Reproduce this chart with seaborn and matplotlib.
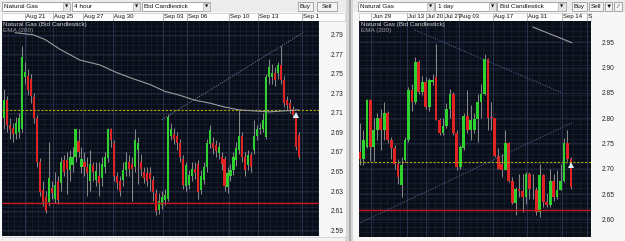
import matplotlib
matplotlib.use("Agg")
import matplotlib.pyplot as plt
import matplotlib.transforms as mtransforms
from matplotlib.patches import Rectangle
from matplotlib.lines import Line2D
import seaborn as sns
import numpy as np
import pandas as pd

sns.set_style("dark")
plt.rcParams['font.family'] = ['Liberation Sans', 'DejaVu Sans']

# ---------------- data: left panel (4 hour) ----------------
left_open = [2.705, 2.723, 2.698, 2.695, 2.688, 2.690, 2.693, 2.747, 2.748, 2.745,
             2.726, 2.705, 2.660, 2.631, 2.624, 2.619, 2.633, 2.622, 2.640, 2.638,
             2.662, 2.662, 2.652, 2.657, 2.665, 2.681, 2.655, 2.660, 2.655, 2.640,
             2.657, 2.641, 2.645, 2.643, 2.655, 2.664, 2.693, 2.679, 2.645, 2.640,
             2.641, 2.652, 2.660, 2.658, 2.655, 2.672, 2.660, 2.650, 2.648, 2.648,
             2.641, 2.628, 2.611, 2.616, 2.621, 2.622, 2.686, 2.688, 2.686, 2.679,
             2.663, 2.635, 2.636, 2.645, 2.653, 2.658, 2.631, 2.641, 2.655, 2.678,
             2.679, 2.677, 2.669, 2.665, 2.663, 2.634, 2.645, 2.652, 2.662, 2.672,
             2.686, 2.665, 2.657, 2.667, 2.672, 2.686, 2.693, 2.693, 2.685, 2.747,
             2.747, 2.751, 2.751, 2.759, 2.744, 2.723, 2.720, 2.714, 2.705, 2.687]
left_high = [2.734, 2.727, 2.705, 2.700, 2.706, 2.710, 2.778, 2.762, 2.755, 2.750,
             2.730, 2.708, 2.664, 2.640, 2.630, 2.680, 2.640, 2.650, 2.645, 2.665,
             2.667, 2.670, 2.672, 2.675, 2.693, 2.693, 2.675, 2.670, 2.665, 2.672,
             2.660, 2.660, 2.660, 2.665, 2.670, 2.695, 2.695, 2.682, 2.650, 2.645,
             2.660, 2.670, 2.667, 2.665, 2.693, 2.685, 2.668, 2.655, 2.655, 2.655,
             2.645, 2.632, 2.628, 2.630, 2.632, 2.709, 2.700, 2.695, 2.690, 2.683,
             2.667, 2.660, 2.652, 2.660, 2.660, 2.662, 2.652, 2.660, 2.683, 2.698,
             2.685, 2.682, 2.680, 2.670, 2.666, 2.655, 2.658, 2.670, 2.680, 2.713,
             2.690, 2.670, 2.672, 2.670, 2.703, 2.698, 2.700, 2.710, 2.750, 2.765,
             2.760, 2.757, 2.762, 2.778, 2.748, 2.727, 2.724, 2.717, 2.708, 2.690]
left_low = [2.693, 2.690, 2.683, 2.680, 2.683, 2.684, 2.690, 2.740, 2.728, 2.720,
            2.700, 2.655, 2.625, 2.615, 2.608, 2.615, 2.622, 2.618, 2.617, 2.630,
            2.645, 2.627, 2.640, 2.650, 2.660, 2.665, 2.648, 2.645, 2.625, 2.630,
            2.640, 2.635, 2.625, 2.635, 2.648, 2.660, 2.675, 2.640, 2.632, 2.625,
            2.635, 2.645, 2.645, 2.620, 2.650, 2.637, 2.645, 2.638, 2.635, 2.630,
            2.620, 2.606, 2.607, 2.612, 2.616, 2.620, 2.682, 2.678, 2.672, 2.660,
            2.632, 2.630, 2.632, 2.640, 2.642, 2.622, 2.627, 2.637, 2.650, 2.674,
            2.668, 2.665, 2.663, 2.652, 2.630, 2.628, 2.640, 2.646, 2.656, 2.668,
            2.660, 2.645, 2.652, 2.650, 2.668, 2.682, 2.688, 2.690, 2.683, 2.740,
            2.740, 2.738, 2.745, 2.740, 2.716, 2.713, 2.710, 2.705, 2.672, 2.663]
left_close = [2.723, 2.698, 2.693, 2.688, 2.700, 2.705, 2.767, 2.752, 2.733, 2.727,
              2.705, 2.660, 2.629, 2.619, 2.610, 2.643, 2.628, 2.636, 2.621, 2.660,
              2.649, 2.653, 2.665, 2.665, 2.693, 2.670, 2.663, 2.655, 2.648, 2.658,
              2.650, 2.651, 2.638, 2.658, 2.665, 2.693, 2.682, 2.645, 2.638, 2.630,
              2.652, 2.660, 2.653, 2.653, 2.682, 2.679, 2.653, 2.643, 2.640, 2.642,
              2.629, 2.610, 2.620, 2.624, 2.626, 2.706, 2.693, 2.683, 2.679, 2.665,
              2.636, 2.657, 2.646, 2.653, 2.648, 2.629, 2.645, 2.655, 2.679, 2.692,
              2.674, 2.671, 2.675, 2.658, 2.635, 2.648, 2.652, 2.665, 2.674, 2.686,
              2.665, 2.652, 2.667, 2.655, 2.686, 2.693, 2.695, 2.703, 2.747, 2.757,
              2.751, 2.744, 2.759, 2.744, 2.720, 2.718, 2.714, 2.708, 2.675, 2.665]
left_ema_idx = [3.7, 9.7, 13.8, 18.8, 25.5, 32.2, 37.2, 42.3, 49, 54, 59, 64, 69, 74, 79, 84, 89, 94, 99]
left_ema_val = [2.792, 2.790, 2.785, 2.775, 2.764, 2.759, 2.752, 2.746, 2.739, 2.732,
                2.728, 2.723, 2.720, 2.716, 2.713, 2.712, 2.711, 2.712, 2.713]
left_trend_idx = [53.0, 100.3]
left_trend_val = [2.703, 2.792]
left_dates = ["Aug 21", "Aug 25", "Aug 27", "Aug 30", "Sep 03", "Sep 06", "Sep 10", "Sep 13", "Sep 1"]
left_date_idx = [7.05, 16.4, 26.5, 36.6, 53.4, 61.4, 75.5, 85.2, 100.0]
left_yticks = [2.59, 2.61, 2.63, 2.65, 2.67, 2.69, 2.71, 2.73, 2.75, 2.77, 2.79]
left_marker = (98.0, 2.708)

# ---------------- data: right panel (1 day) ----------------
right_open = [2.733, 2.720, 2.743, 2.835, 2.743, 2.776, 2.800, 2.776, 2.810, 2.756,
              2.740, 2.710, 2.667, 2.717, 2.756, 2.855, 2.832, 2.911, 2.851, 2.871,
              2.822, 2.872, 2.882, 2.797, 2.770, 2.784, 2.819, 2.848, 2.770, 2.704,
              2.740, 2.805, 2.777, 2.777, 2.799, 2.832, 2.848, 2.916, 2.801, 2.801,
              2.726, 2.710, 2.698, 2.750, 2.676, 2.632, 2.660, 2.656, 2.644, 2.690,
              2.659, 2.658, 2.614, 2.687, 2.634, 2.628, 2.676, 2.644, 2.658, 2.676,
              2.750, 2.720]
right_high = [2.790, 2.776, 2.838, 2.838, 2.800, 2.810, 2.818, 2.832, 2.815, 2.763,
              2.746, 2.720, 2.723, 2.763, 2.861, 2.868, 2.921, 2.914, 2.884, 2.881,
              2.880, 2.888, 2.947, 2.800, 2.800, 2.829, 2.858, 2.851, 2.776, 2.746,
              2.810, 2.855, 2.825, 2.810, 2.848, 2.868, 2.927, 2.918, 2.832, 2.800,
              2.740, 2.730, 2.776, 2.753, 2.684, 2.664, 2.690, 2.690, 2.694, 2.694,
              2.690, 2.664, 2.710, 2.690, 2.651, 2.700, 2.690, 2.697, 2.710, 2.760,
              2.776, 2.723]
right_low = [2.707, 2.707, 2.740, 2.716, 2.713, 2.756, 2.736, 2.756, 2.750, 2.720,
             2.700, 2.670, 2.644, 2.713, 2.753, 2.815, 2.828, 2.848, 2.845, 2.818,
             2.815, 2.865, 2.796, 2.766, 2.766, 2.780, 2.800, 2.766, 2.697, 2.700,
             2.736, 2.770, 2.756, 2.770, 2.753, 2.800, 2.845, 2.777, 2.777, 2.723,
             2.700, 2.684, 2.697, 2.674, 2.631, 2.608, 2.644, 2.614, 2.631, 2.641,
             2.640, 2.608, 2.604, 2.624, 2.624, 2.624, 2.637, 2.641, 2.657, 2.674,
             2.716, 2.660]
right_close = [2.720, 2.756, 2.835, 2.743, 2.776, 2.800, 2.776, 2.810, 2.756, 2.740,
               2.710, 2.684, 2.707, 2.756, 2.855, 2.832, 2.911, 2.851, 2.871, 2.822,
               2.875, 2.875, 2.797, 2.770, 2.784, 2.819, 2.848, 2.770, 2.704, 2.743,
               2.805, 2.777, 2.797, 2.798, 2.832, 2.848, 2.916, 2.801, 2.800, 2.726,
               2.700, 2.698, 2.750, 2.676, 2.632, 2.660, 2.656, 2.644, 2.690, 2.659,
               2.660, 2.614, 2.687, 2.634, 2.628, 2.676, 2.644, 2.658, 2.676, 2.750,
               2.720, 2.664]
right_ema_idx = [50.0, 61.3]
right_ema_val = [2.980, 2.949]
right_trend1_idx = [15.9, 58.4]
right_trend1_val = [2.974, 2.850]
right_trend2_idx = [0.0, 61.6]
right_trend2_val = [2.593, 2.792]
right_dates = ["Jun 29", "Jul 13", "Jul 20", "Jul 27", "Aug 03", "Aug 17", "Aug 31", "Sep 14", "S"]
right_date_idx = [3.3, 13.6, 19.1, 24.3, 28.6, 38.4, 48.3, 58.4, 65.6]
right_yticks = [2.60, 2.65, 2.70, 2.75, 2.80, 2.85, 2.90, 2.95]
right_marker = (61.0, 2.707)

support_level = 2.618
resistance_level = 2.713

# ---------------- styling ----------------
W, H = 625, 241
BG = '#0a0e19'
GRID = '#182134'
MAJ = '#2b3852'
GREEN = '#2fd12f'
RED = '#e02323'
WICK = '#8a8a8a'

fig = plt.figure(figsize=(W / 100, H / 100), dpi=100, facecolor='#f7f7f7')


def fx(x):
    return x / W


def fy(y):
    return 1 - y / H


def rect(x0, y0, x1, y1, fc, ec='none', lw=0.6, z=0):
    fig.patches.append(Rectangle((fx(x0), fy(y1)), (x1 - x0) / W, (y1 - y0) / H,
                                 transform=fig.transFigure, facecolor=fc,
                                 edgecolor=ec, linewidth=lw, zorder=z))


def txt(x, y, s, size=4.6, color='#111111', ha='left', z=10, **kw):
    fig.text(fx(x), fy(y), s, fontsize=size, color=color, ha=ha, va='center', zorder=z, **kw)


def dropdown(x0, x1, xa, label):
    rect(x0, 2, x1, 11, 'white', '#9a9a9a', 0.6, z=2)
    rect(xa, 2.5, x1 - 0.5, 10.5, '#e6e6e6', '#b0b0b0', 0.5, z=3)
    txt(x0 + 2.5, 6.8, label)
    txt((xa + x1) / 2, 6.8, '▼', size=3.0, ha='center', family='DejaVu Sans')


def button(x0, x1, label):
    rect(x0, 2, x1, 11, '#f4f4f4', '#9a9a9a', 0.6, z=2)
    txt((x0 + x1) / 2, 6.8, label, ha='center', family=['Liberation Sans', 'DejaVu Sans'])


def panel(rect_px, o, h, l, c, width, xlim, ylim, yticks, fmt, pad):
    x0, y0, x1, y1 = rect_px
    ax = fig.add_axes([fx(x0), fy(y1), (x1 - x0) / W, (y1 - y0) / H])
    ax.set_zorder(5)
    ax.set_facecolor(BG)
    df = pd.DataFrame({'o': o, 'h': h, 'l': l, 'c': c})
    df['i'] = np.arange(len(df))
    up = df['c'] >= df['o']
    ax.vlines(df['i'], df['l'], df['h'], color=WICK, lw=0.7, zorder=3)
    body = (df['c'] - df['o']).abs().clip(lower=(ylim[1] - ylim[0]) * 0.004)
    ax.bar(df['i'], body, bottom=np.minimum(df['o'], df['c']), width=width,
           color=np.where(up, GREEN, RED), zorder=4, linewidth=0)
    ax.set_xlim(*xlim)
    ax.set_ylim(*ylim)
    ax.yaxis.tick_right()
    ax.set_yticks(yticks)
    ax.set_yticklabels([fmt.format(v) for v in yticks])
    ax.set_yticks(np.arange(ylim[0], ylim[1], (ylim[1] - ylim[0]) / 44), minor=True)
    ax.set_xticks(np.arange(xlim[0], xlim[1], 2), minor=True)
    ax.set_xticks([])
    ax.tick_params(axis='y', which='both', length=0, pad=pad, labelsize=4.8, labelcolor='#222222')
    ax.grid(which='minor', color=GRID, lw=0.5)
    ax.grid(which='major', axis='y', color='#232d42', lw=0.6)
    for s in ax.spines.values():
        s.set_visible(False)
    ax.axhline(support_level, color='#c8161c', lw=1.0, zorder=5)
    ax.axhline(resistance_level, color='#aaaa00', lw=0.8, ls=(0, (2.0, 1.5)), zorder=5)
    return ax


def header(ax, x0, x1, idxs, labels, fs):
    rect(x0, 12.5, x1, 20.5, '#fdfdfd', '#c8c8c8', 0.5, z=1)
    tr = mtransforms.blended_transform_factory(ax.transData, fig.transFigure)
    off = mtransforms.offset_copy(tr, fig=fig, x=1.2, y=0, units='dots')
    for i, lab in zip(idxs, labels):
        fig.add_artist(Line2D([i, i], [fy(12.5), fy(20.5)], transform=tr, color='#b0b0b0',
                              lw=0.6, zorder=2))
        ax.axvline(i, color=MAJ, lw=0.6, zorder=1)
        fig.text(i, fy(16.8), lab, transform=off, fontsize=fs, va='center', ha='left',
                 color='#111111', zorder=10)


# ---------- left window ----------
rect(0, 0, 348, 12, '#ececec')
dropdown(2, 70, 63, 'Natural Gas')
dropdown(72, 140, 133, '4 hour')
dropdown(142, 210, 203, 'Bid Candlestick')
button(298, 313, 'Buy')
button(317, 337, 'Sell')

axL = panel((2, 21, 319, 236), left_open, left_high, left_low, left_close, 0.7,
            (-0.67, 105.7), (2.584, 2.804), left_yticks, '{:.2f}', 8.5)
header(axL, 2, 345, left_date_idx, left_dates, 4.4)
sns.lineplot(x=left_ema_idx, y=left_ema_val, ax=axL, color='#9c9c9c', lw=0.8, zorder=6)
sns.lineplot(x=left_trend_idx, y=left_trend_val, ax=axL, color='#7c8aa8', lw=0.7,
             ls=(0, (1, 1.5)), zorder=6)
axL.plot(*left_marker, marker='^', color='#dff4ff', ms=4, zorder=8, mew=0)
txt(3, 24.5, 'Natural Gas (Bid Candlestick)', size=4.6, color='#d4d4d4')
txt(3, 30.5, 'EMA (200)', size=4.6, color='#9a9a9a')
rect(2, 236.5, 345, 241, '#f3f3f3', '#c8c8c8', 0.5)

# ---------- divider / right window ----------
rect(346, 0, 353, 241, '#d6d6d6', z=0.5)
rect(349, 0, 351, 241, '#a9a9a9', z=0.6)
rect(353, 0, 625, 241, '#f7f7f7', z=0.7)
rect(353, 0, 625, 12, '#ececec', z=0.8)
dropdown(358, 434, 427, 'Natural Gas')
dropdown(435, 496, 489, '1 day')
dropdown(497, 566, 558, 'Bid Candlestick')
button(572, 587, 'Buy')
button(589, 603, 'Sell')
button(605, 612, '▼')
button(614, 622, '⁄')

axR = panel((359, 21, 591, 237), right_open, right_high, right_low, right_close, 0.8,
            (-0.3, 66.8), (2.565, 2.992), right_yticks, '{:.2f}', 7.5)
header(axR, 359, 591, right_date_idx, right_dates, 4.3)
sns.lineplot(x=right_ema_idx, y=right_ema_val, ax=axR, color='#9c9c9c', lw=0.8, zorder=6)
sns.lineplot(x=right_trend1_idx, y=right_trend1_val, ax=axR, color='#5a6e9a', lw=0.7,
             ls=(0, (1, 1.5)), zorder=6)
sns.lineplot(x=right_trend2_idx, y=right_trend2_val, ax=axR, color='#5a6e9a', lw=0.7,
             ls=(0, (1, 1.5)), zorder=6)
axR.plot(*right_marker, marker='^', color='#dff4ff', ms=4, zorder=8, mew=0)
txt(361, 24.5, 'Natural Gas (Bid Candlestick)', size=4.6, color='#d4d4d4')
txt(361, 30.5, 'EMA (200)', size=4.6, color='#9a9a9a')

fig.savefig('out.png', dpi=100, facecolor=fig.get_facecolor())
